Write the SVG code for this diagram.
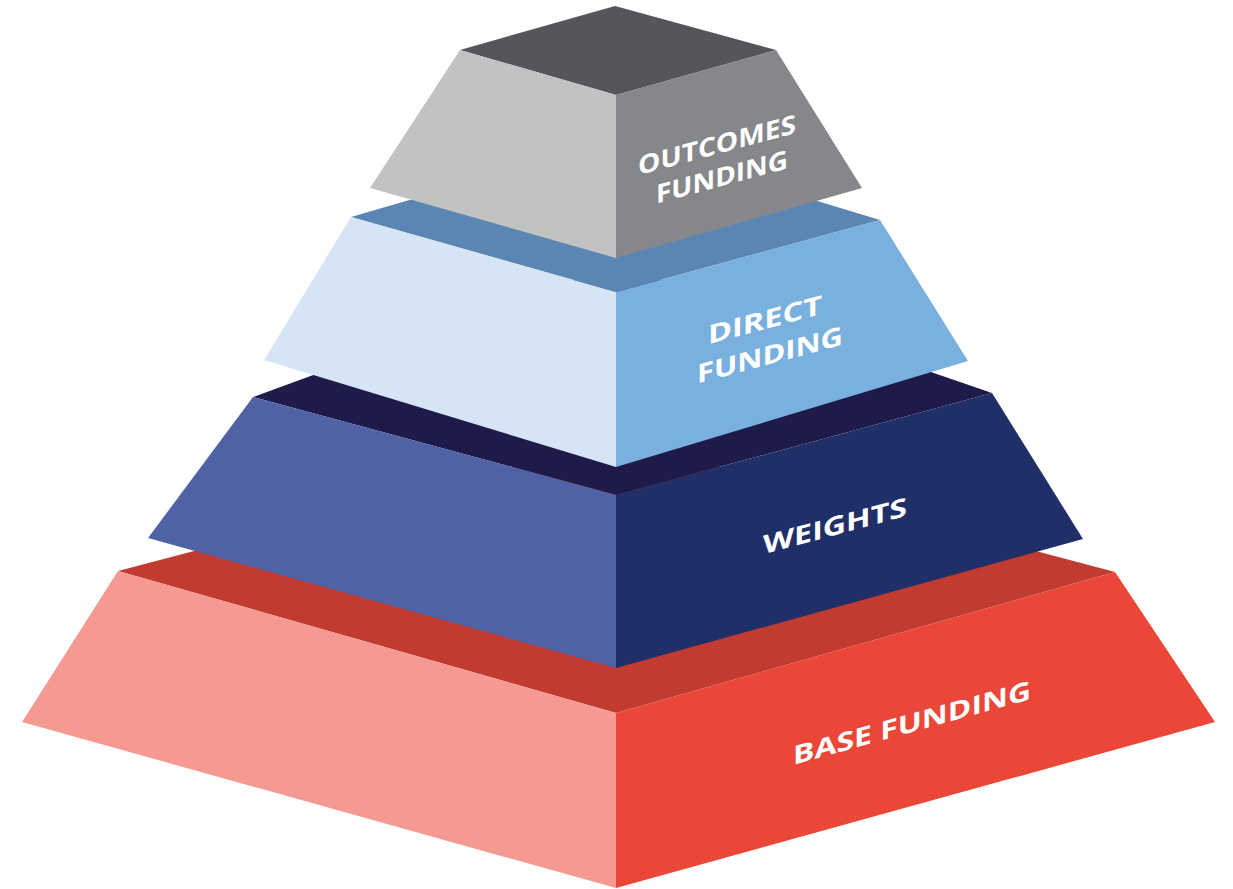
<svg xmlns="http://www.w3.org/2000/svg" width="1233" height="889" viewBox="0 0 1233 889">
<style>
.lbl{font-family:"Open Sans","Liberation Sans",sans-serif;font-weight:700;font-size:26px;fill:#ffffff;text-anchor:middle}
</style>
<rect x="0" y="0" width="1233" height="889" fill="#ffffff"/>
<g id="connectors"/>
<g id="tier-base">
<polygon points="118,571 616,440 1115,572 616,713" fill="#c23b30"/>
<polygon points="118,571 616,713 616,888 22,722" fill="#f49a92"/>
<polygon points="616,713 1115,572 1215,722 616,888" fill="#ea4738"/>
<text class="lbl" transform="translate(912,732) skewY(-15.5)" textLength="238" lengthAdjust="spacingAndGlyphs">BASE FUNDING</text>
</g>
<g id="tier-weights">
<polygon points="253,397 616,264 992,393 616,495" fill="#1e1b4a"/>
<polygon points="253,397 616,495 616,668 148,538" fill="#4f62a5"/>
<polygon points="616,495 992,393 1083,539 616,668" fill="#212f68"/>
<text class="lbl" transform="translate(835,535) skewY(-15)" textLength="144" lengthAdjust="spacingAndGlyphs">WEIGHTS</text>
</g>
<g id="tier-direct">
<polygon points="351,217 616,140 880,220 616,292" fill="#5b86b4"/>
<polygon points="351,217 616,292 616,467 264,360" fill="#d6e5f5"/>
<polygon points="616,292 880,220 968,361 616,467" fill="#7ab0de"/>
<text class="lbl" transform="translate(765,329) skewY(-15)" textLength="114" lengthAdjust="spacingAndGlyphs">DIRECT</text>
<text class="lbl" transform="translate(770,364) skewY(-15)" textLength="146" lengthAdjust="spacingAndGlyphs">FUNDING</text>
</g>
<g id="tier-outcomes">
<polygon points="460,50 615,6 776,50 616,95" fill="#55555b"/>
<polygon points="460,50 616,95 616,258 370,188" fill="#c2c2c2"/>
<polygon points="616,95 776,50 862,188 616,258" fill="#86878b"/>
<text class="lbl" transform="translate(717,154) skewY(-15)" textLength="158" lengthAdjust="spacingAndGlyphs">OUTCOMES</text>
<text class="lbl" transform="translate(722,186) skewY(-15)" textLength="132" lengthAdjust="spacingAndGlyphs">FUNDING</text>
</g>
</svg>
